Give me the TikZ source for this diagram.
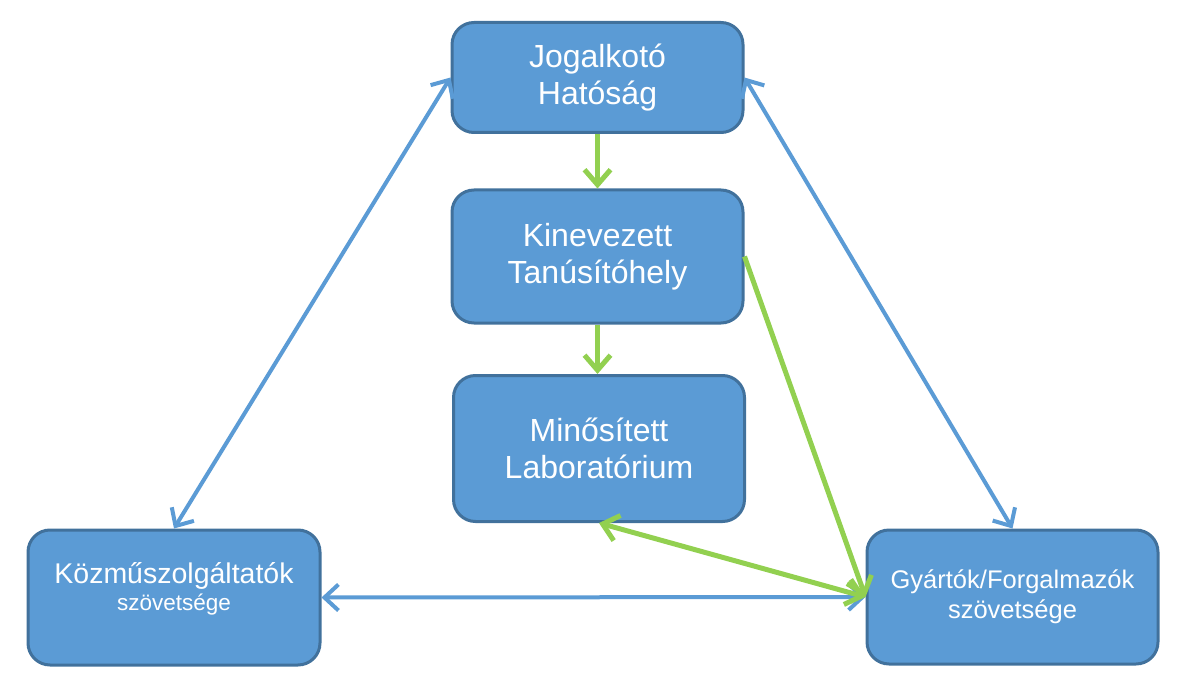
\documentclass[tikz,border=0pt]{standalone}
\usepackage{fontspec}
\setmainfont{Liberation Sans}
\usetikzlibrary{arrows.meta}
\definecolor{boxblue}{HTML}{5B9BD5}
\definecolor{boxedge}{HTML}{41719C}
\definecolor{arrgreen}{HTML}{92D050}
\tikzset{
  box/.style={draw=boxedge, line width=3pt, fill=boxblue, rounded corners=22pt,
    minimum width=291pt, inner sep=0pt, text=white, align=center},
  boxtext/.style={text=white, align=center, inner sep=0pt},
  bluearr/.style={draw=boxblue, line width=4pt,
    {Straight Barb[length=14pt,width=26pt]}-{Straight Barb[length=14pt,width=26pt]}},
  greenarr/.style={draw=arrgreen, line width=5pt,
    -{Straight Barb[length=15pt,width=26pt]}},
}
\begin{document}
\begin{tikzpicture}[x=1pt, y=-1pt]
    \useasboundingbox (0,0) rectangle (1196,679);
    \def\bigtext{\fontsize{32}{37}\selectfont}
    % boxes
    \node[box, minimum height=110pt, font=\bigtext] (jog) at (597.5,77.5) {Jogalkotó\\Hatóság};
    \node[box, minimum height=133pt, font=\bigtext] (kin) at (597.5,256.5) {Kinevezett\\Tanúsítóhely};
    \node[box, minimum height=146pt, font=\bigtext] (min) at (599,448.5) {Minősített\\Laboratórium};
    \node[box, minimum height=135pt, minimum width=292pt] (koz) at (174,597.5) {};
    \node[boxtext] (koztxt) at (174,589)
        {{\fontsize{28.5}{33}\selectfont Közműszolgáltatók}\\[3pt]{\fontsize{22.5}{30}\selectfont szövetsége}};
    \node[box, minimum height=134pt, font=\fontsize{25.5}{30}\selectfont] (gyar) at (1012.5,597)
        {Gyártók/Forgalmazók\\szövetsége};
    % blue links
    \draw[bluearr] (koz.north) -- (jog.west);
    \draw[bluearr] (jog.east) -- (gyar.north);
    \draw[bluearr] (koz.east) -- (gyar.west);
    % green links
    \draw[greenarr] (jog.south) -- (kin.north);
    \draw[greenarr] (kin.south) -- (kin.south |- min.north);
    \draw[greenarr] (kin.east) -- (gyar.west);
    \draw[greenarr, {Straight Barb[length=15pt,width=26pt]}-{Straight Barb[length=15pt,width=26pt]}]
        (min.south) -- (gyar.west);
\end{tikzpicture}
\end{document}
